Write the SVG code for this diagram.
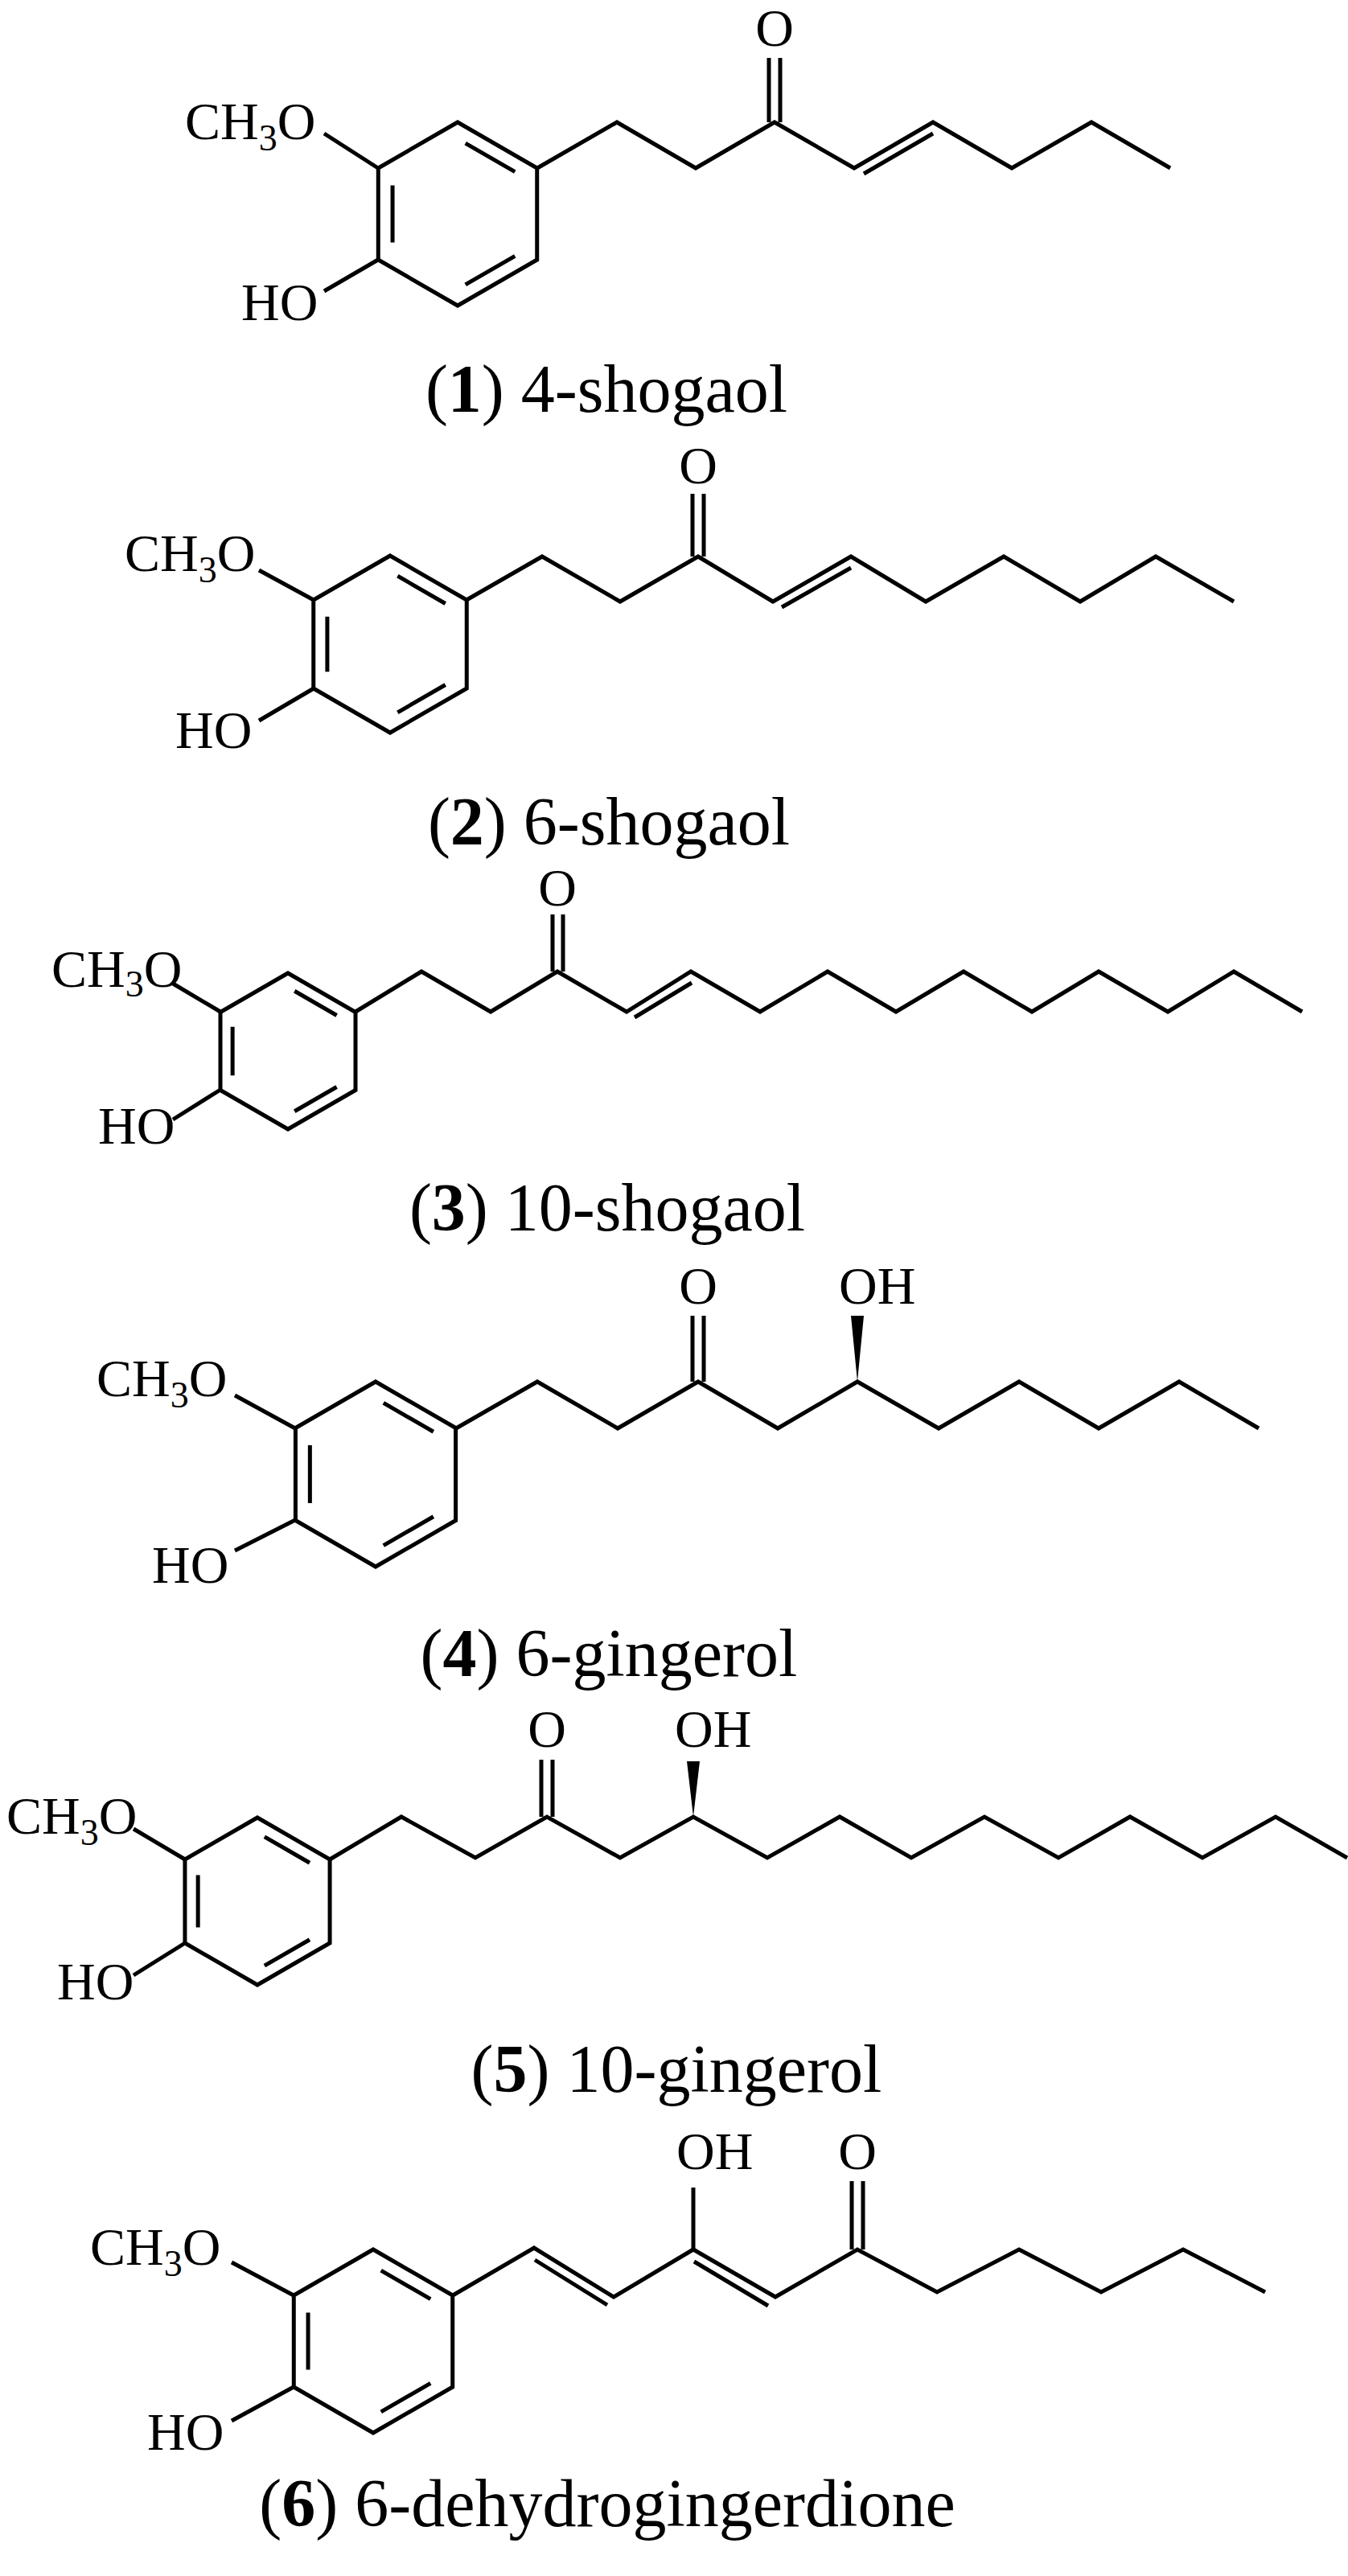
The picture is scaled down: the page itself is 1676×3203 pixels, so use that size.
<svg xmlns="http://www.w3.org/2000/svg" xmlns:xlink="http://www.w3.org/1999/xlink" width="1676" height="3203" viewBox="0 0 1676 3203">
<style>
.b{fill:none;stroke:#000;stroke-width:5;stroke-linejoin:miter;stroke-linecap:butt}
.r{fill:none;stroke:#000;stroke-width:5;vector-effect:non-scaling-stroke}
.a{font-family:"Liberation Serif","Times New Roman",serif;font-size:66px;fill:#000}
.s{font-size:46px}
.c{font-family:"Liberation Serif","Times New Roman",serif;font-size:84px;fill:#000;text-anchor:middle}
.w{fill:#000}
</style>
<defs>
<g id="ring">
<path class="r" d="M0,-100 L86.6,-50 L86.6,50 L0,100 L-86.6,50 L-86.6,-50 Z"/>
<path class="r" d="M8.5,-77.1 L62.5,-45.9 M-71,-31.2 L-71,31.2 M62.5,45.9 L8.5,77.1"/>
</g>
</defs>
<g id="mol1">
<use xlink:href="#ring" transform="translate(569,266) scale(1.14)"/>
<path class="b" d="M668,209 L767,152 L865,209 L963,152 L1062,209 L1160,152 L1258,209 L1357,152 L1455,209"/>
<path class="b" d="M956,152 L956,72 M970,152 L970,72 M1074,216 L1160,166 M403,166 L470,209 M403,362 L470,323"/>
<text class="a" x="230" y="173">CH<tspan class="s" dy="14">3</tspan><tspan dy="-14">O</tspan></text>
<text class="a" x="300" y="398">HO</text>
<text class="a" x="963" y="57" text-anchor="middle">O</text>
<text class="c" x="754" y="512">(<tspan font-weight="bold">1</tspan>) 4-shogaol</text>
</g>
<g id="mol2">
<use xlink:href="#ring" transform="translate(485,801) scale(1.10)"/>
<path class="b" d="M580,746 L674,692 L771,748 L868,692 L961,748 L1058,692 L1151,748 L1248,692 L1343,748 L1437,692 L1534,748"/>
<path class="b" d="M861,692 L861,614 M875,692 L875,614 M972,755 L1058,706 M322,709 L390,746 M322,896 L390,856"/>
<text class="a" x="155" y="710">CH<tspan class="s" dy="14">3</tspan><tspan dy="-14">O</tspan></text>
<text class="a" x="218" y="930">HO</text>
<text class="a" x="868" y="601" text-anchor="middle">O</text>
<text class="c" x="757" y="1050">(<tspan font-weight="bold">2</tspan>) 6-shogaol</text>
</g>
<g id="mol3">
<use xlink:href="#ring" transform="translate(358,1307) scale(0.97)"/>
<path class="b" d="M442,1258 L524,1208 L610,1258 L693,1208 L779,1258 L859,1208 L945,1258 L1029,1208 L1114,1258 L1198,1208 L1283,1258 L1366,1208 L1452,1258 L1534,1208 L1619,1258"/>
<path class="b" d="M687,1208 L687,1137 M700,1208 L700,1137 M789,1265 L860,1222 M215,1223 L274,1258 M215,1392 L274,1355"/>
<text class="a" x="64" y="1227" font-size="58">CH<tspan class="s" font-size="40" dy="12">3</tspan><tspan dy="-12">O</tspan></text>
<text class="a" x="122" y="1422" font-size="58">HO</text>
<text class="a" x="693" y="1126" font-size="58" text-anchor="middle">O</text>
<text class="c" x="755" y="1530">(<tspan font-weight="bold">3</tspan>) 10-shogaol</text>
</g>
<g id="mol4">
<use xlink:href="#ring" transform="translate(467,1833) scale(1.15)"/>
<path class="b" d="M567,1776 L668,1718 L768,1776 L868,1718 L967,1776 L1066,1718 L1167,1776 L1267,1718 L1366,1776 L1466,1718 L1565,1776"/>
<path class="b" d="M861,1718 L861,1636 M875,1718 L875,1636 M292,1735 L367,1776 M292,1928 L367,1890"/>
<path class="w" d="M1066,1718 L1058,1636 L1074,1636 Z"/>
<text class="a" x="120" y="1736">CH<tspan class="s" dy="14">3</tspan><tspan dy="-14">O</tspan></text>
<text class="a" x="189" y="1968">HO</text>
<text class="a" x="868" y="1621" text-anchor="middle">O</text>
<text class="a" x="1043" y="1621">OH</text>
<text class="c" x="757" y="2084">(<tspan font-weight="bold">4</tspan>) 6-gingerol</text>
</g>
<g id="mol5">
<use xlink:href="#ring" transform="translate(320,2364) scale(1.04)"/>
<path class="b" d="M410,2312 L499,2259 L591,2310 L680,2259 L771,2310 L862,2259 L954,2310 L1044,2259 L1133,2310 L1224,2259 L1316,2310 L1405,2259 L1495,2310 L1586,2259 L1675,2310"/>
<path class="b" d="M673,2259 L673,2188 M687,2259 L687,2188 M166,2274 L230,2312 M166,2456 L230,2416"/>
<path class="w" d="M862,2259 L854,2190 L870,2190 Z"/>
<text class="a" x="8" y="2280">CH<tspan class="s" dy="14">3</tspan><tspan dy="-14">O</tspan></text>
<text class="a" x="71" y="2486">HO</text>
<text class="a" x="680" y="2172" text-anchor="middle">O</text>
<text class="a" x="839" y="2172">OH</text>
<text class="c" x="841" y="2601">(<tspan font-weight="bold">5</tspan>) 10-gingerol</text>
</g>
<g id="mol6">
<use xlink:href="#ring" transform="translate(464,2911) scale(1.14)"/>
<path class="b" d="M563,2854 L664,2795 L763,2856 L862,2797 L964,2856 L1066,2797 L1165,2850 L1267,2797 L1369,2850 L1471,2797 L1573,2850"/>
<path class="b" d="M665,2810 L755,2866 M863,2812 L955,2867 M862,2797 L862,2720 M1059,2797 L1059,2712 M1073,2797 L1073,2712 M288,2813 L365,2854 M288,3010 L365,2968"/>
<text class="a" x="112" y="2816">CH<tspan class="s" dy="14">3</tspan><tspan dy="-14">O</tspan></text>
<text class="a" x="183" y="3046">HO</text>
<text class="a" x="841" y="2697">OH</text>
<text class="a" x="1066" y="2697" text-anchor="middle">O</text>
<text class="c" x="755" y="3141">(<tspan font-weight="bold">6</tspan>) 6-dehydrogingerdione</text>
</g>
</svg>
